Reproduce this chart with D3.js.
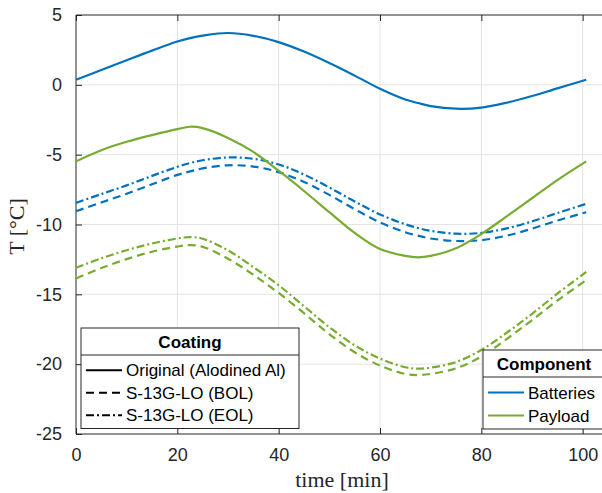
<!DOCTYPE html>
<html>
<head>
<meta charset="utf-8">
<script src="https://cdn.jsdelivr.net/npm/d3@7"></script>
<style>
  html, body { margin: 0; padding: 0; background: #fff; }
  svg { display: block; }
</style>
</head>
<body>
<div id="chart"></div>
<script>
// ---- data ----
const times = [0, 5, 10, 15, 20, 22.5, 25, 30, 35, 40, 45, 50, 55, 60, 65, 67.5, 70, 75, 80, 85, 90, 95, 100.7];

const batteriesOriginal = [0.36, 1.06, 1.76, 2.45, 3.1, 3.34, 3.52, 3.71, 3.51, 3.06, 2.38, 1.56, 0.66, -0.28, -1.05, -1.3, -1.52, -1.71, -1.63, -1.28, -0.8, -0.25, 0.36];
const batteriesBOL = [-9.05, -8.42, -7.8, -7.12, -6.45, -6.2, -5.98, -5.76, -5.85, -6.25, -6.95, -7.88, -8.9, -9.85, -10.55, -10.8, -11.0, -11.18, -11.12, -10.8, -10.3, -9.72, -9.12];
const batteriesEOL = [-8.45, -7.82, -7.2, -6.52, -5.87, -5.6, -5.4, -5.2, -5.3, -5.7, -6.42, -7.35, -8.35, -9.28, -9.98, -10.25, -10.45, -10.66, -10.6, -10.28, -9.78, -9.18, -8.52];

const payloadOriginal = [-5.48, -4.68, -4.08, -3.6, -3.17, -3.0, -3.1, -3.8, -4.8, -6.15, -7.6, -9.12, -10.6, -11.75, -12.25, -12.35, -12.25, -11.7, -10.68, -9.42, -8.12, -6.82, -5.48];
const payloadBOL = [-13.86, -13.12, -12.48, -11.95, -11.58, -11.48, -11.6, -12.45, -13.6, -14.9, -16.35, -17.85, -19.15, -20.1, -20.7, -20.78, -20.7, -20.3, -19.45, -18.2, -16.85, -15.45, -13.98];
const payloadEOL = [-13.1, -12.42, -11.84, -11.36, -11.0, -10.9, -11.02, -11.85, -13.05, -14.35, -15.85, -17.35, -18.65, -19.6, -20.22, -20.32, -20.25, -19.85, -18.98, -17.75, -16.4, -14.95, -13.4];

const xTicks = [0, 20, 40, 60, 80, 100];
const yTicks = [5, 0, -5, -10, -15, -20, -25];

const componentNames = ["Batteries", "Payload"];
const componentColors = ["#0072BD", "#77AC30"];
const coatingNames = ["Original (Alodined Al)", "S-13G-LO (BOL)", "S-13G-LO (EOL)"];
const coatingDashes = [null, "8,5", "8,3,2,3"];

const seriesList = [
  { comp: 0, coat: 2, values: batteriesEOL },
  { comp: 0, coat: 1, values: batteriesBOL },
  { comp: 1, coat: 2, values: payloadEOL },
  { comp: 1, coat: 1, values: payloadBOL },
  { comp: 0, coat: 0, values: batteriesOriginal },
  { comp: 1, coat: 0, values: payloadOriginal }
];

// ---- layout ----
const W = 602, H = 493;
const pL = 76, pR = 608, pT = 15, pB = 434;
const axisColor = "#262626";
const gridColor = "#e3e3e3";
const tickFont = "'Liberation Sans', Arial, Helvetica, sans-serif";
const labelFont = "'Liberation Serif', 'Times New Roman', serif";

const svg = d3.select("#chart").append("svg").attr("width", W).attr("height", H);

const x = d3.scaleLinear().domain([0, 105]).range([pL, pR]);
const y = d3.scaleLinear().domain([-25, 5]).range([pB, pT]);

// grid
const grid = svg.append("g");
grid.selectAll("line.gx").data(xTicks.filter(d => d > 0)).join("line")
  .attr("x1", d => x(d)).attr("x2", d => x(d)).attr("y1", pT).attr("y2", pB)
  .attr("stroke", gridColor).attr("stroke-width", 1);
grid.selectAll("line.gy").data(yTicks.filter(d => d > -25 && d < 5)).join("line")
  .attr("x1", pL).attr("x2", pR).attr("y1", d => y(d)).attr("y2", d => y(d))
  .attr("stroke", gridColor).attr("stroke-width", 1);

// axes
const xAxisB = d3.axisBottom(x).tickValues(xTicks).tickSize(-6).tickPadding(14).tickFormat(d3.format("d"));
const xAxisT = d3.axisTop(x).tickValues(xTicks).tickSize(-6).tickFormat("");
const yAxisL = d3.axisLeft(y).tickValues(yTicks).tickSize(-6).tickPadding(14).tickFormat(d3.format("d"));

function styleAxis(g) {
  g.select(".domain").remove();
  g.selectAll(".tick line").attr("stroke", axisColor).attr("stroke-width", 1);
  g.selectAll(".tick text").attr("fill", axisColor).attr("font-family", tickFont).attr("font-size", 18);
}
svg.append("g").attr("transform", `translate(0,${pB})`).call(xAxisB).call(styleAxis);
svg.append("g").attr("transform", `translate(0,${pT})`).call(xAxisT).call(styleAxis);
svg.append("g").attr("transform", `translate(${pL},0)`).call(yAxisL).call(styleAxis)
  .selectAll(".tick text").text(d => d < 0 ? "-" + Math.abs(d) : d);

// box
svg.append("path")
  .attr("d", `M${pR},${pT}H${pL}V${pB}H${pR}`)
  .attr("fill", "none").attr("stroke", axisColor).attr("stroke-width", 1);

// lines
const line = d3.line().curve(d3.curveCatmullRom.alpha(0.5))
  .x((d, i) => x(times[i])).y(d => y(d));
svg.append("g").selectAll("path").data(seriesList).join("path")
  .attr("d", d => line(d.values))
  .attr("fill", "none")
  .attr("stroke", d => componentColors[d.comp])
  .attr("stroke-width", 2.2)
  .attr("stroke-dasharray", d => coatingDashes[d.coat]);

// axis labels
svg.append("text").attr("x", (pL + pR) / 2).attr("y", 487)
  .attr("text-anchor", "middle").attr("font-family", labelFont).attr("font-size", 22)
  .attr("fill", axisColor).text("time [min]");
svg.append("text").attr("transform", `translate(24,${(pT + pB) / 2 + 2}) rotate(-90)`)
  .attr("text-anchor", "middle").attr("font-family", labelFont).attr("font-size", 22)
  .attr("fill", axisColor).text("T [°C]");

// legends
function legend(x0, y0, w, titleH, rowH, title, names, drawSample) {
  const g = svg.append("g");
  const h = titleH + rowH * names.length + 6;
  g.append("rect").attr("x", x0).attr("y", y0).attr("width", w).attr("height", h)
    .attr("fill", "#fff").attr("stroke", axisColor).attr("stroke-width", 1);
  g.append("line").attr("x1", x0).attr("x2", x0 + w).attr("y1", y0 + titleH).attr("y2", y0 + titleH)
    .attr("stroke", axisColor).attr("stroke-width", 1);
  g.append("text").attr("x", x0 + w / 2).attr("y", y0 + titleH / 2 + 6)
    .attr("text-anchor", "middle").attr("font-family", tickFont).attr("font-weight", "bold")
    .attr("font-size", 17).attr("fill", "#000").text(title);
  names.forEach((n, i) => {
    const cy = y0 + titleH + 4 + rowH * i + rowH / 2;
    drawSample(g, i, x0 + 5, x0 + 41, cy);
    g.append("text").attr("x", x0 + 45).attr("y", cy + 6)
      .attr("font-family", tickFont).attr("font-size", 17).attr("fill", "#000").text(n);
  });
}
legend(81, 328, 218, 27, 22.5, "Coating", coatingNames, (g, i, xa, xb, cy) => {
  g.append("line").attr("x1", xa).attr("x2", xb).attr("y1", cy).attr("y2", cy)
    .attr("stroke", "#000").attr("stroke-width", 2).attr("stroke-dasharray", coatingDashes[i]);
});
legend(483, 350, 122, 27, 23, "Component", componentNames, (g, i, xa, xb, cy) => {
  g.append("line").attr("x1", xa).attr("x2", xb).attr("y1", cy).attr("y2", cy)
    .attr("stroke", componentColors[i]).attr("stroke-width", 2);
});
</script>
</body>
</html>
